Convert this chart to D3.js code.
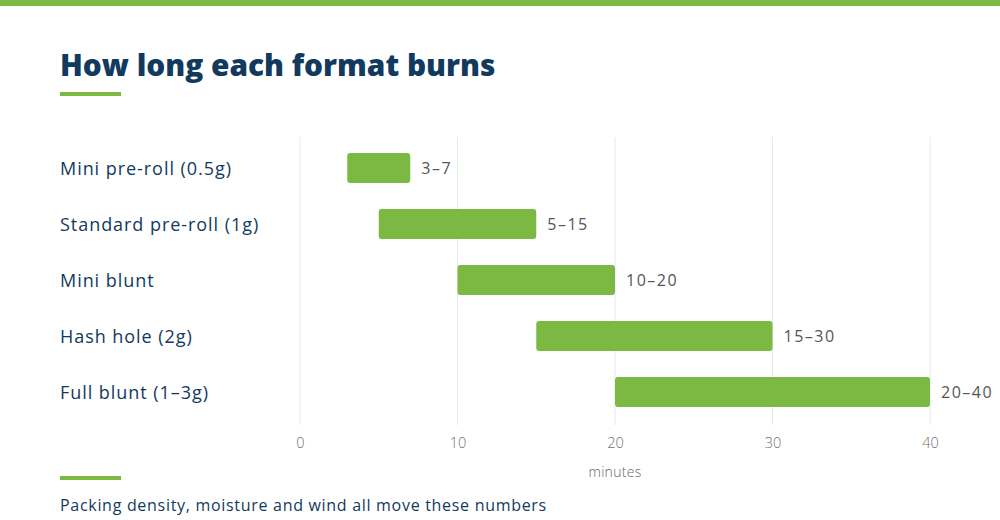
<!DOCTYPE html>
<html><head><meta charset="utf-8">
<script src="https://cdn.jsdelivr.net/npm/d3@7"></script>
<style>
html,body{margin:0;padding:0;background:#fff;}
svg{display:block;font-family:"Open Sans",sans-serif;}
</style></head>
<body><svg id="c" width="1000" height="520"></svg>
<script>
const categories = ["Mini pre-roll (0.5g)","Standard pre-roll (1g)","Mini blunt","Hash hole (2g)","Full blunt (1–3g)"];
const minValues = [3,5,10,15,20];
const maxValues = [7,15,20,30,40];
const valueLabels = ["3–7","5–15","10–20","15–30","20–40"];
const tickValues = [0,10,20,30,40];

const svg = d3.select("#c");
const green = "#7cb943", navy = "#123a5e";

svg.append("rect").attr("x",0).attr("y",0).attr("width",1000).attr("height",6).attr("fill",green);
svg.append("text").attr("x",60).attr("y",76).attr("fill",navy)
  .attr("font-size",29.8).attr("font-weight",800).text("How long each format burns");
svg.append("rect").attr("x",60).attr("y",92).attr("width",61).attr("height",4).attr("fill",green);

const x = d3.scaleLinear().domain([0,40]).range([300,930]);
const y = d3.scaleBand().domain(categories).range([140,420]).paddingInner(0.464).paddingOuter(0.232);

const grid = svg.append("g");
grid.selectAll("line").data(tickValues).join("line")
  .attr("x1",d=>x(d)).attr("x2",d=>x(d)).attr("y1",137).attr("y2",425)
  .attr("stroke","#e3e8ec").attr("stroke-width",1);

const axis = svg.append("g").attr("transform","translate(0,425)")
  .call(d3.axisBottom(x).tickValues(tickValues).tickSize(0).tickPadding(13));
axis.select(".domain").remove();
axis.selectAll("text").attr("font-size",14.5).attr("fill","#6f6f6f").attr("font-family","'Open Sans',sans-serif").attr("font-weight",300);

svg.append("text").attr("x",615).attr("y",477).attr("text-anchor","middle").attr("font-size",14)
  .attr("fill","#666").attr("font-weight",300).attr("letter-spacing",0.3).text("minutes");

const rows = categories.map((c,i)=>({c,lo:minValues[i],hi:maxValues[i],lab:valueLabels[i]}));

svg.append("g").selectAll("text").data(rows).join("text")
  .attr("x",60).attr("y",d=>y(d.c)+y.bandwidth()/2).attr("dy","0.38em")
  .attr("font-size",18).attr("font-weight",500).attr("letter-spacing",0.95).attr("fill",navy).text(d=>d.c);

svg.append("g").selectAll("rect").data(rows).join("rect")
  .attr("x",d=>x(d.lo)).attr("y",d=>y(d.c)).attr("width",d=>x(d.hi)-x(d.lo))
  .attr("height",y.bandwidth()).attr("rx",3).attr("fill",green);

svg.append("g").selectAll("text").data(rows).join("text")
  .attr("x",d=>x(d.hi)+11).attr("y",d=>y(d.c)+y.bandwidth()/2).attr("dy","0.35em")
  .attr("font-size",16).attr("letter-spacing",1.5).attr("fill","#555").text(d=>d.lab);

svg.append("rect").attr("x",60).attr("y",476).attr("width",61).attr("height",4).attr("fill",green);
svg.append("text").attr("x",60).attr("y",511).attr("font-size",16).attr("font-weight",500).attr("letter-spacing",0.7)
  .attr("fill",navy).text("Packing density, moisture and wind all move these numbers");
</script></body></html>
